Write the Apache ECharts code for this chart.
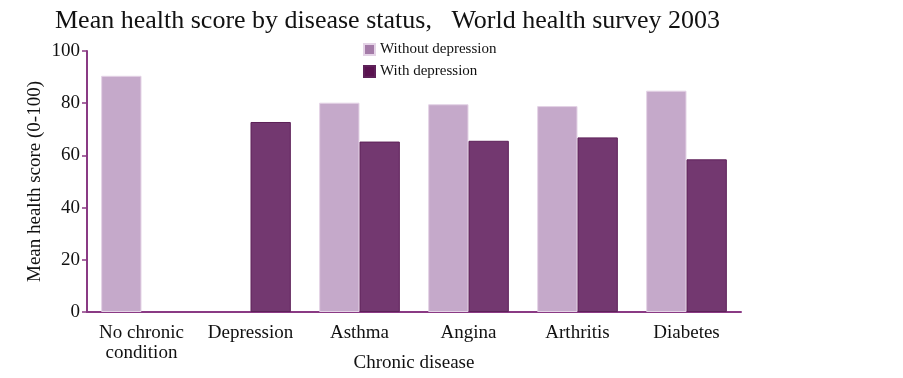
<!DOCTYPE html>
<html>
<head>
<meta charset="utf-8">
<script src="https://cdn.jsdelivr.net/npm/echarts@6/dist/echarts.min.js"></script>
<style>html,body{margin:0;padding:0;background:#fff}#c{width:903px;height:378px}</style>
</head>
<body>
<div id="c"></div>
<script>
var categories = ['No chronic\ncondition', 'Depression', 'Asthma', 'Angina', 'Arthritis', 'Diabetes'];
var withoutDepression = [90.5, null, 80.2, 79.6, 78.9, 84.8];
var withDepression = [null, 72.8, 65.3, 65.6, 66.9, 58.5];
var yTicks = [0, 20, 40, 60, 80, 100];

var serif = '"Liberation Serif", "DejaVu Serif", serif';
var axisColor = '#8a3a84';
var chart = echarts.init(document.getElementById('c'));
chart.setOption({
  animation: false,
  title: {
    text: 'Mean health score by disease status,   World health survey 2003',
    left: 50, top: 3,
    textStyle: { fontFamily: serif, fontSize: 26, fontWeight: 'normal', color: '#111' }
  },
  legend: {
    orient: 'vertical', left: 358, top: 37, itemWidth: 11, itemHeight: 11, itemGap: 7,
    textStyle: { fontFamily: serif, fontSize: 15, color: '#111' },
    data: [
      { name: 'Without depression', icon: 'rect', itemStyle: { color: '#a47ba8' } },
      { name: 'With depression', icon: 'rect', itemStyle: { color: '#5a1250' } }
    ]
  },
  grid: { left: 87, right: 162, top: 51, bottom: 66, containLabel: false, outerBoundsMode: 'none' },
  xAxis: {
    type: 'category', data: categories,
    name: 'Chronic disease', nameLocation: 'middle', nameGap: 42, nameMoveOverlap: false,
    nameTextStyle: { fontFamily: serif, fontSize: 19, color: '#111' },
    axisLine: { lineStyle: { color: axisColor, width: 2 } },
    axisTick: { show: false },
    axisLabel: { fontFamily: serif, fontSize: 19, color: '#111', margin: 11, lineHeight: 20, interval: 0 }
  },
  yAxis: {
    type: 'value', min: yTicks[0], max: yTicks[yTicks.length - 1], interval: 20,
    name: 'Mean health score (0-100)', nameLocation: 'middle', nameGap: 42, nameMoveOverlap: false,
    nameTextStyle: { fontFamily: serif, fontSize: 19, color: '#111' },
    axisLine: { show: true, lineStyle: { color: axisColor, width: 2 } },
    axisTick: { show: true, length: 5, lineStyle: { color: axisColor, width: 1.5 } },
    splitLine: { show: false },
    axisLabel: { fontFamily: serif, fontSize: 19, color: '#111', margin: 7 }
  },
  series: [
    {
      name: 'Without depression', type: 'bar', data: withoutDepression,
      barGap: '0%', barCategoryGap: '26%',
      itemStyle: { color: '#c5a9ca', borderColor: '#e4d3e6', borderWidth: 1 }
    },
    {
      name: 'With depression', type: 'bar', data: withDepression,
      itemStyle: { color: '#733870', borderColor: '#5e2159', borderWidth: 1 }
    }
  ]
});
</script>
</body>
</html>
